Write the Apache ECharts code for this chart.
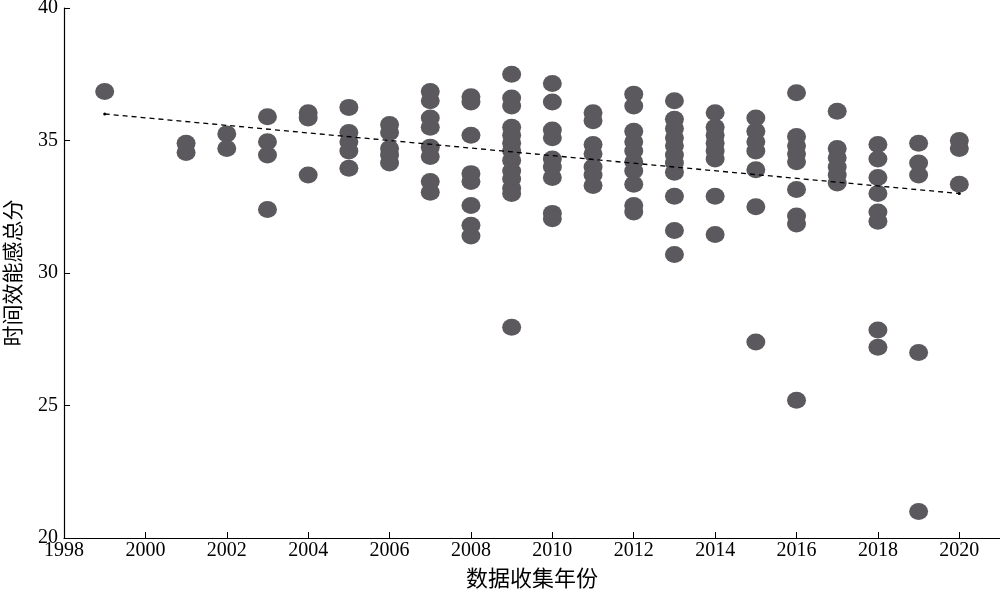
<!DOCTYPE html>
<html>
<head>
<meta charset="utf-8">
<script src="https://cdn.jsdelivr.net/npm/echarts@6/dist/echarts.min.js"></script>
<style>
html,body{margin:0;padding:0;background:#fff;}
#chart{width:1000px;height:593px;}
</style>
</head>
<body>
<div id="chart"></div>
<script>
// Data
var years = [1999, 2001, 2002, 2003, 2004, 2005, 2006, 2007, 2008, 2009, 2010, 2011, 2012, 2013, 2014, 2015, 2016, 2017, 2018, 2019, 2020];
var scoresByYear = [
  [36.85],
  [34.9, 34.55],
  [35.25, 34.7],
  [35.9, 34.95, 34.45, 32.4],
  [36.05, 35.85, 33.7],
  [36.25, 35.3, 34.95, 34.6, 33.95],
  [35.6, 35.3, 34.7, 34.45, 34.15],
  [36.85, 36.5, 35.85, 35.5, 34.75, 34.4, 33.45, 33.05],
  [36.65, 36.45, 35.2, 33.75, 33.45, 32.55, 31.8, 31.4],
  [37.5, 36.6, 36.3, 35.5, 35.2, 34.9, 34.6, 34.25, 33.85, 33.55, 33.2, 33.0, 27.95],
  [37.15, 36.45, 35.4, 35.1, 34.3, 34.0, 33.6, 32.25, 32.05],
  [36.05, 35.75, 34.85, 34.5, 34.0, 33.7, 33.3],
  [36.75, 36.3, 35.35, 34.95, 34.6, 34.2, 33.85, 33.35, 32.55, 32.3],
  [36.5, 35.8, 35.45, 35.1, 34.8, 34.45, 34.15, 33.8, 32.9, 31.6, 30.7],
  [36.05, 35.5, 35.2, 34.9, 34.6, 34.3, 32.9, 31.45],
  [35.85, 35.35, 34.95, 34.6, 33.9, 32.5, 27.4],
  [36.8, 35.15, 34.8, 34.5, 34.2, 33.15, 32.15, 31.85, 25.2],
  [36.1, 34.7, 34.35, 34.0, 33.7, 33.4],
  [34.85, 34.3, 33.6, 33.0, 32.3, 31.95, 27.85, 27.2],
  [34.9, 34.15, 33.7, 27.0, 21.0],
  [35.0, 34.7, 33.35]
];
var trendX = [1999, 2020];
var trendY = [36.0, 33.0];
var xTicks = [1998, 2000, 2002, 2004, 2006, 2008, 2010, 2012, 2014, 2016, 2018, 2020];
var yTicks = [20, 25, 30, 35, 40];

var points = [];
years.forEach(function (y, i) {
  scoresByYear[i].forEach(function (s) { points.push([y, s]); });
});
var trend = trendX.map(function (x, i) { return [x, trendY[i]]; });

var serif = '"Liberation Serif", "Times New Roman", serif';
var cjk = '"Noto Sans CJK SC", "Liberation Serif", serif';

var chart = echarts.init(document.getElementById('chart'), null, {renderer: 'canvas'});
chart.setOption({
  animation: false,
  backgroundColor: '#fff',
  grid: {left: 64, right: 0, top: 8, bottom: 55, containLabel: false, outerBoundsMode: 'none'},
  xAxis: {
    type: 'value',
    min: 1998, max: 2021, interval: 2,
    name: '数据收集年份',
    nameLocation: 'middle',
    nameGap: 29,
    nameTextStyle: {fontFamily: cjk, fontSize: 22, color: '#000'},
    axisLine: {lineStyle: {color: '#000', width: 1.2}},
    axisTick: {inside: true, length: 6, customValues: xTicks, lineStyle: {color: '#000'}},
    axisLabel: {customValues: xTicks, margin: 3, fontFamily: serif, fontSize: 20, color: '#000',
      formatter: function (v) { return String(v); }},
    splitLine: {show: false}
  },
  yAxis: {
    type: 'value',
    min: 20, max: 40, interval: 5,
    name: '时间效能感总分',
    nameLocation: 'middle',
    nameGap: 41,
    nameRotate: 90,
    nameTextStyle: {fontFamily: cjk, fontSize: 21, color: '#000'},
    axisLine: {show: true, lineStyle: {color: '#000', width: 1.2}},
    axisTick: {show: true, inside: true, length: 6, customValues: yTicks, lineStyle: {color: '#000'}},
    axisLabel: {customValues: yTicks, margin: 6, fontFamily: serif, fontSize: 20, color: '#000',
      formatter: function (v) { return String(v); }},
    splitLine: {show: false}
  },
  series: [
    {
      type: 'scatter',
      data: points,
      symbol: 'circle',
      symbolSize: [19, 17],
      itemStyle: {color: '#5b595d', opacity: 1},
      z: 2
    },
    {
      type: 'line',
      data: trend,
      symbol: 'circle',
      symbolSize: 3,
      itemStyle: {color: '#000'},
      lineStyle: {color: '#000', width: 1.3, type: [5, 4]},
      z: 5
    }
  ]
});
</script>
</body>
</html>
